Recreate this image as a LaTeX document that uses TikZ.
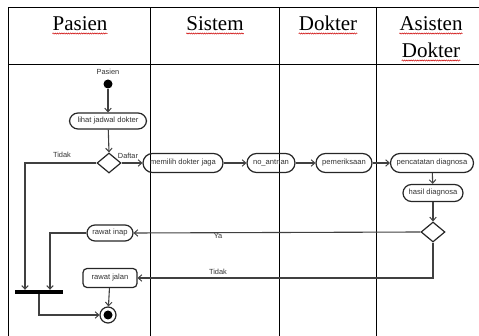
\documentclass[tikz,border=0pt]{standalone}
\usepackage{fontspec}
\setmainfont{Liberation Serif}
\newfontfamily\diafont{Liberation Sans}
\usetikzlibrary{arrows.meta,shapes.geometric,decorations.pathmorphing}
\begin{document}
\begin{tikzpicture}[x=1pt,y=-1pt,
  grid/.style={draw=black,line width=1pt},
  head/.style={font=\fontsize{21}{23}\selectfont,inner sep=0pt,anchor=base},
  wavy/.style={draw=red!80!black,line width=0.5pt,decorate,decoration={snake,amplitude=0.6pt,segment length=2.2pt}},
  act/.style={draw=black!85,line width=1.2pt,rounded corners=8.5pt,inner sep=0pt,font=\diafont\fontsize{7.6}{8}\selectfont,text=black!80},
  dec/.style={draw=black!85,line width=1.2pt,diamond,inner sep=0pt,minimum width=24pt,minimum height=20pt,aspect=1.2},
  lbl/.style={font=\diafont\fontsize{7.4}{8}\selectfont,text=black!80,inner sep=0pt},
  arr/.style={draw=black!75,line width=1.1pt,-{Straight Barb[length=3.5pt,width=6.5pt,line width=1pt]}},
  ln/.style={draw=black!75,line width=1.1pt}]
\useasboundingbox (0,0) rectangle (479,336);
% table
\draw[grid] (479,8) -- (8,8) -- (8,336);
\draw[grid] (8,65) -- (479,65);
\draw[grid] (150,8) -- (150,336);
\draw[grid] (279,8) -- (279,336);
\draw[grid] (376,8) -- (376,336);
% headers
\node[head] (h1) at (80,31) {Pasien};
\node[head] (h2) at (215,31) {Sistem};
\node[head] (h3) at (328,31) {Dokter};
\node[head] (h4) at (431,31) {Asisten};
\node[head] (h5) at (431,58) {Dokter};
\foreach \h in {h1,h2,h3,h4,h5}{
  \draw[wavy] ([yshift=-2.5pt]\h.base west) -- ([yshift=-2.5pt]\h.base east);
}
% nodes
\node[lbl] (plabel) at (108,72) {Pasien};
\node[circle,fill=black,inner sep=0pt,minimum size=9pt] (start) at (108,84) {};
\node[act,minimum width=77pt,minimum height=16pt] (lihat) at (108,121) {lihat jadwal dokter};
\node[dec] (d1) at (109,163) {};
\node[act,minimum width=80pt,minimum height=19pt,rounded corners=9.5pt] (milih) at (183,163) {memilih dokter jaga};
\node[act,minimum width=48pt,minimum height=19pt,rounded corners=9.5pt] (antri) at (271,163) {no\_antrian};
\node[act,minimum width=56pt,minimum height=19pt,rounded corners=9.5pt] (periksa) at (344,163) {pemeriksaan};
\node[act,minimum width=83pt,minimum height=19pt,rounded corners=9.5pt] (catat) at (432,163) {pencatatan diagnosa};
\node[act,minimum width=60pt,minimum height=17pt] (hasil) at (433,193) {hasil diagnosa};
\node[dec] (d2) at (433,232) {};
\node[act,minimum width=46pt,minimum height=16pt,rounded corners=8pt] (inap) at (110,233) {rawat inap};
\node[act,minimum width=54pt,minimum height=19pt,rounded corners=4pt] (jalan) at (110,278) {rawat jalan};
\node[rectangle,fill=black,inner sep=0pt,minimum width=48pt,minimum height=4pt] (bar) at (39,292) {};
\node[circle,draw=black!85,line width=1.2pt,inner sep=0pt,minimum size=16pt] (end) at (108,315) {};
\node[circle,fill=black,inner sep=0pt,minimum size=9pt] (endin) at (end) {};
% labels
\node[lbl] (ltidak1) at (62,155) {Tidak};
\node[lbl] (ldaftar) at (128,156) {Daftar};
\node[lbl] (lya) at (218,236) {Ya};
\node[lbl] (ltidak2) at (218,272) {Tidak};
% coordinates
\coordinate (c1) at (25,163);
\coordinate (c2) at (50,233);
\coordinate (c3) at (39,315);
% edges
\draw[arr] (start) -- (lihat);
\draw[arr] (lihat) -- (d1.north);
\draw[arr] (d1.east) -- (milih);
\draw[arr] (d1.west) -- (c1) -- (c1 |- bar.north);
\draw[arr] (milih) -- (antri);
\draw[arr] (antri) -- (periksa);
\draw[arr] (periksa) -- (catat);
\draw[arr] (catat) -- (hasil);
\draw[arr] (hasil) -- (d2.north);
\draw[arr] (d2.west) -- (inap.east);
\draw[arr] (d2.south) |- (jalan.east);
\draw[arr] (inap.west) -- (c2) -- (c2 |- bar.north);
\draw[arr] (jalan) -- (end);
\draw[arr] (bar.south -| c3) -- (c3) -- (end.west);
\end{tikzpicture}
\end{document}
